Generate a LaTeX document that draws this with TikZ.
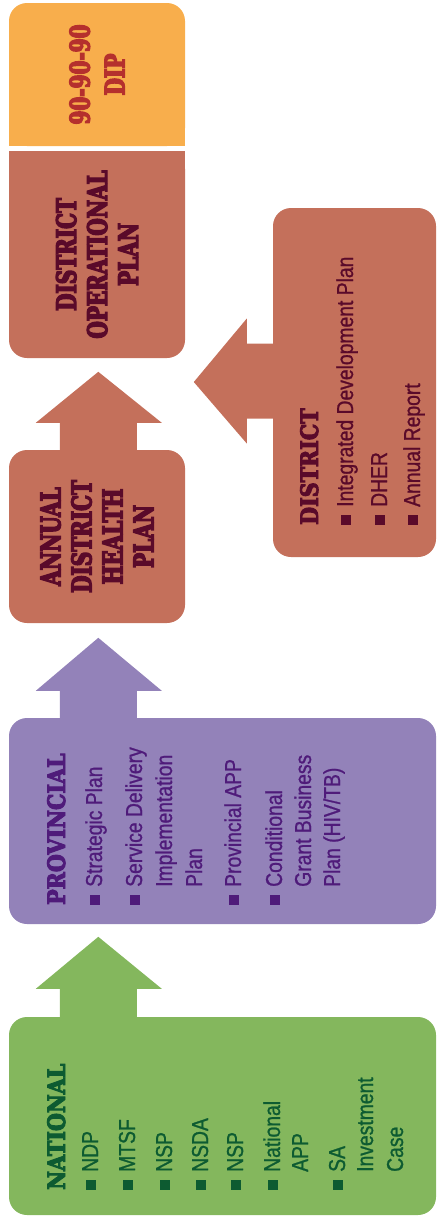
\documentclass[tikz,border=0pt]{standalone}
\usepackage{fontspec}
\usepackage{tikz}

\newfontfamily\itemfont[FakeStretch=0.84,FakeBold=1]{Liberation Sans}
\newfontfamily\headfont[FakeStretch=0.86,FakeBold=4]{DejaVu Serif}
\newfontfamily\titlefont[FakeStretch=0.74,FakeBold=5]{DejaVu Serif}

\definecolor{dipfill}{HTML}{F8AE4C}
\definecolor{diptext}{HTML}{B5302D}
\definecolor{dopfill}{HTML}{C4705B}
\definecolor{doptext}{HTML}{5A0A2A}
\definecolor{provfill}{HTML}{9382B9}
\definecolor{provtext}{HTML}{4F1B7A}
\definecolor{natfill}{HTML}{84B75D}
\definecolor{nattext}{HTML}{0D5B31}

\newcommand{\blt}{\rule[2pt]{10pt}{10pt}\hspace{8pt}}
\newcommand{\ind}{\hspace*{18pt}}

\tikzset{
  box/.style={rectangle, rounded corners=18pt, inner sep=0pt, draw=none},
  head/.style={rotate=90, anchor=base west, inner sep=0pt,
    font=\headfont\bfseries\fontsize{24}{28}\selectfont},
  itemline/.style={rotate=90, anchor=base west, inner sep=0pt,
    font=\itemfont\fontsize{23}{28}\selectfont},
  bigtitle/.style={rotate=90, align=center, inner sep=0pt,
    font=\titlefont\bfseries\fontsize{27}{31}\selectfont},
}

\begin{document}
\begin{tikzpicture}[x=1pt,y=-1pt]
    \useasboundingbox (0,0) rectangle (437,1216);

    % boxes
    \node[box, fill=dipfill, minimum width=176pt, minimum height=143pt] (dip) at (97,74.5) {};
    \fill[dipfill] (dip.west) rectangle (dip.south east);
    \node[box, fill=dopfill, minimum width=176pt, minimum height=207pt] (dop) at (97,254.5) {};
    \fill[dopfill] (dop.north west) rectangle (dop.east);
    \node[box, fill=dopfill, minimum width=176pt, minimum height=173pt] (adhp) at (97,536.5) {};
    \node[box, fill=dopfill, minimum width=163pt, minimum height=349pt] (district) at (354.5,382.5) {};
    \node[box, fill=provfill, minimum width=427pt, minimum height=206pt] (provincial) at (222.5,821) {};
    \node[box, fill=natfill, minimum width=427pt, minimum height=198pt] (national) at (222.5,1116) {};

    % block arrows
    \fill[natfill] (national.north west) ++(51,5) -- ++(0,-33) -- ++(-24,0) -- ++(62.5,-52)
        -- ++(63.5,52) -- ++(-25,0) -- ++(0,33) -- cycle;
    \fill[provfill] (provincial.north west) ++(51,5) -- ++(0,-32) -- ++(-24,0) -- ++(62.5,-53)
        -- ++(63.5,53) -- ++(-25,0) -- ++(0,32) -- cycle;
    \fill[dopfill] (adhp.north west) ++(51,5) -- ++(0,-32) -- ++(-24,0) -- ++(62.5,-51)
        -- ++(63.5,51) -- ++(-25,0) -- ++(0,32) -- cycle;
    \fill[dopfill] (district.west) ++(5,-39) -- ++(-31,0) -- ++(0,-25) -- ++(-53,63.5)
        -- ++(53,61.5) -- ++(0,-25) -- ++(31,0) -- cycle;

    % titles
    \node[bigtitle, diptext] (diptitle) at (dip.center) {90-90-90\\[4pt]DIP};
    \node[bigtitle, doptext] (doptitle) at (dop.center) {DISTRICT\\OPERATIONAL\\PLAN};
    \node[bigtitle, doptext] (adhptitle) at (adhp.center) {ANNUAL\\DISTRICT\\HEALTH\\PLAN};

    % district
    \node[head, doptext] (disthead) at (318,525) {DISTRICT};
    \node[itemline, doptext] (dist1) at (353,525) {\blt Integrated Development Plan};
    \node[itemline, doptext] (dist2) at (387,525) {\blt DHER};
    \node[itemline, doptext] (dist3) at (420,525) {\blt Annual Report};

    % provincial
    \node[head, provtext] (provhead) at (65,905) {PROVINCIAL};
    \node[itemline, provtext] (prov1) at (102,905) {\blt Strategic Plan};
    \node[itemline, provtext] (prov2) at (142,905) {\blt Service Delivery};
    \node[itemline, provtext] (prov2b) at (172,905) {\ind Implementation};
    \node[itemline, provtext] (prov2c) at (202,905) {\ind Plan};
    \node[itemline, provtext] (prov3) at (241,905) {\blt Provincial APP};
    \node[itemline, provtext] (prov4) at (282,905) {\blt Conditional};
    \node[itemline, provtext] (prov4b) at (311,905) {\ind Grant Business};
    \node[itemline, provtext] (prov4c) at (340,905) {\ind Plan (HIV/TB)};

    % national
    \node[head, nattext] (nathead) at (65,1190) {NATIONAL};
    \node[itemline, nattext] (nat1) at (98,1190) {\blt NDP};
    \node[itemline, nattext] (nat2) at (135,1190) {\blt MTSF};
    \node[itemline, nattext] (nat3) at (172,1190) {\blt NSP};
    \node[itemline, nattext] (nat4) at (208,1190) {\blt NSDA};
    \node[itemline, nattext] (nat5) at (243,1190) {\blt NSP};
    \node[itemline, nattext] (nat6) at (280,1190) {\blt National};
    \node[itemline, nattext] (nat6b) at (308,1190) {\ind APP};
    \node[itemline, nattext] (nat7) at (345,1190) {\blt SA};
    \node[itemline, nattext] (nat7b) at (373,1190) {\ind Investment};
    \node[itemline, nattext] (nat7c) at (403,1190) {\ind Case};

\end{tikzpicture}
\end{document}
